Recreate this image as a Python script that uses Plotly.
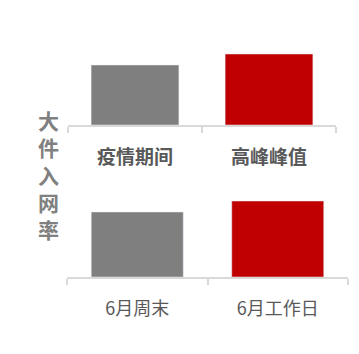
import plotly.graph_objects as go

top_categories = ["疫情期间", "高峰峰值"]
top_values = [0.60, 0.71]
bottom_categories = ["6月周末", "6月工作日"]
bottom_values = [0.65, 0.76]
bar_colors = ["#7f7f7f", "#c00000"]
y_title_chars = ["大", "件", "入", "网", "率"]

W, H = 359, 354
font_family = "Noto Sans CJK SC"

fig = go.Figure()
fig.add_trace(go.Bar(x=top_categories, y=top_values, marker_color=bar_colors,
                     xaxis="x", yaxis="y", showlegend=False))
fig.add_trace(go.Bar(x=bottom_categories, y=bottom_values, marker_color=bar_colors,
                     xaxis="x2", yaxis="y2", showlegend=False))

axis_common = dict(showline=True, linecolor="#d9d9d9", linewidth=2,
                   ticks="outside", tickson="boundaries", ticklen=6,
                   tickcolor="#d9d9d9", tickwidth=2, showgrid=False,
                   zeroline=False, fixedrange=True)

fig.update_layout(
    width=W, height=H,
    margin=dict(l=0, r=0, t=0, b=0),
    paper_bgcolor="white", plot_bgcolor="white",
    bargap=0.345,
    xaxis=dict(domain=[68 / W, 336 / W], anchor="y",
               tickfont=dict(family=font_family, size=19, color="#595959", weight="bold"),
               ticklabelstandoff=14, **axis_common),
    yaxis=dict(domain=[(H - 125) / H, (H - 25) / H], range=[0, 1], anchor="x",
               visible=False),
    xaxis2=dict(domain=[67 / W, 348 / W], anchor="y2",
                tickfont=dict(family=font_family, size=18, color="#595959"),
                ticklabelstandoff=14, **axis_common),
    yaxis2=dict(domain=[(H - 277) / H, (H - 177) / H], range=[0, 1], anchor="x2",
                visible=False),
)

fig.add_annotation(
    text="<br>".join(y_title_chars), xref="paper", yref="paper",
    x=48 / W, y=(H - 174) / H, xanchor="center", yanchor="middle",
    showarrow=False,
    font=dict(family=font_family, size=21, color="#808080", weight="bold"),
)

fig.write_html("out.html", config={"displayModeBar": False},
               post_script="document.body.style.margin='0';document.body.style.overflow='hidden';")
